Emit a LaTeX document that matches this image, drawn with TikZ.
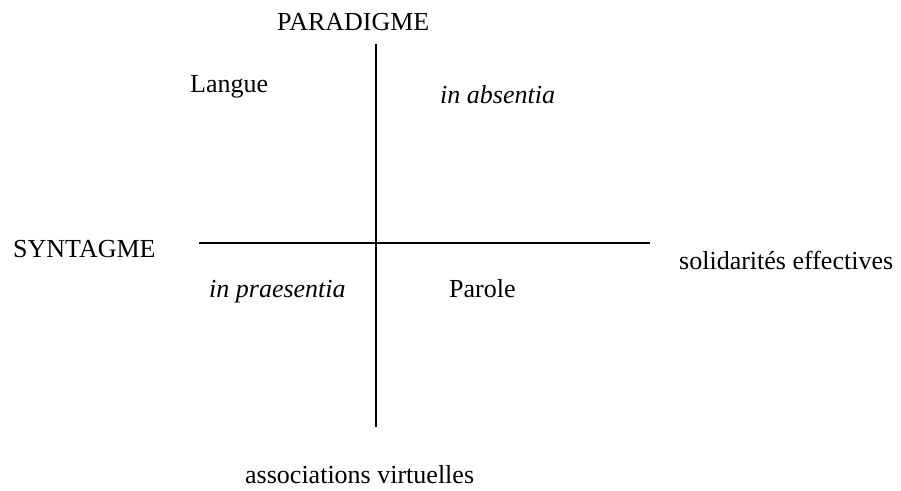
\documentclass[tikz,border=0pt]{standalone}
\usepackage{fontspec}
\setmainfont{Liberation Serif}
\begin{document}
\begin{tikzpicture}[x=1pt,y=-1pt,
  lbl/.style={inner sep=0pt,anchor=base west,font=\fontsize{26}{30}\selectfont},
  axis/.style={line width=1.7pt,black}]
\useasboundingbox (0,0) rectangle (901,490);
\coordinate (vt) at (376,44);
\coordinate (vb) at (376,427);
\coordinate (hl) at (199,243);
\coordinate (hr) at (650,243);
\draw[axis] (vt) -- (vb);
\draw[axis] (hl) -- (hr);
\node[lbl] (par) at (277,30) {PARADIGME};
\node[lbl] (lan) at (190,92) {Langue};
\node[lbl] (abs) at (440,103) {\itshape in absentia};
\node[lbl] (syn) at (13,257) {SYNTAGME};
\node[lbl] (sol) at (679,269) {solidarités effectives};
\node[lbl] (pra) at (209,297) {\itshape in praesentia};
\node[lbl] (paro) at (449,297) {Parole};
\node[lbl] (ass) at (245,483) {associations virtuelles};
\end{tikzpicture}
\end{document}
